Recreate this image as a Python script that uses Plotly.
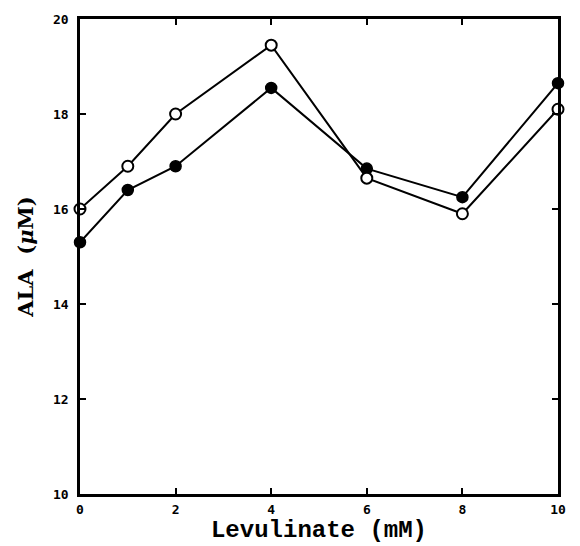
import plotly.graph_objects as go

# Levulinate concentration (mM)
levulinate = [0, 1, 2, 4, 6, 8, 10]
# ALA (uM), open-circle series
ala_open = [16.0, 16.9, 18.0, 19.45, 16.65, 15.9, 18.1]
# ALA (uM), filled-circle series
ala_filled = [15.3, 16.4, 16.9, 18.55, 16.85, 16.25, 18.65]

x_ticks = [0, 2, 4, 6, 8, 10]
y_ticks = [10, 12, 14, 16, 18, 20]

tick_font = dict(family="DejaVu Sans Mono", size=13, color="black", weight="bold")

fig = go.Figure()
fig.add_trace(go.Scatter(
    x=levulinate, y=ala_filled, mode="lines+markers",
    line=dict(color="black", width=2),
    marker=dict(symbol="circle", size=11, color="black",
                line=dict(color="black", width=1.5)),
    cliponaxis=False, showlegend=False,
))
fig.add_trace(go.Scatter(
    x=levulinate, y=ala_open, mode="lines+markers",
    line=dict(color="black", width=2),
    marker=dict(symbol="circle", size=11, color="white",
                line=dict(color="black", width=2)),
    cliponaxis=False, showlegend=False,
))

fig.update_layout(
    width=580, height=546,
    margin=dict(l=80, r=22, t=14, b=49),
    paper_bgcolor="white", plot_bgcolor="white",
    xaxis=dict(
        range=[0, 10], tickvals=x_ticks, ticktext=[str(v) for v in x_ticks],
        ticks="inside", ticklen=6, tickwidth=2, tickcolor="black",
        showline=True, linewidth=2.5, linecolor="black", mirror="ticks",
        showgrid=False, zeroline=False,
        tickfont=tick_font, ticklabelstandoff=2,
        title=dict(text="Levulinate (mM)",
                   font=dict(family="Liberation Mono", size=24, color="black", weight="bold"),
                   standoff=0),
    ),
    yaxis=dict(
        range=[10, 20], tickvals=y_ticks, ticktext=[str(v) for v in y_ticks],
        ticks="inside", ticklen=6, tickwidth=2, tickcolor="black",
        showline=True, linewidth=2.5, linecolor="black", mirror="ticks",
        showgrid=False, zeroline=False,
        tickfont=tick_font, ticklabelstandoff=6,
        title=dict(text="ALA  (<i>μ</i>M)",
                   font=dict(family="DejaVu Serif", size=21, color="black", weight="bold"),
                   standoff=14),
    ),
)

fig.write_html("out.html")
